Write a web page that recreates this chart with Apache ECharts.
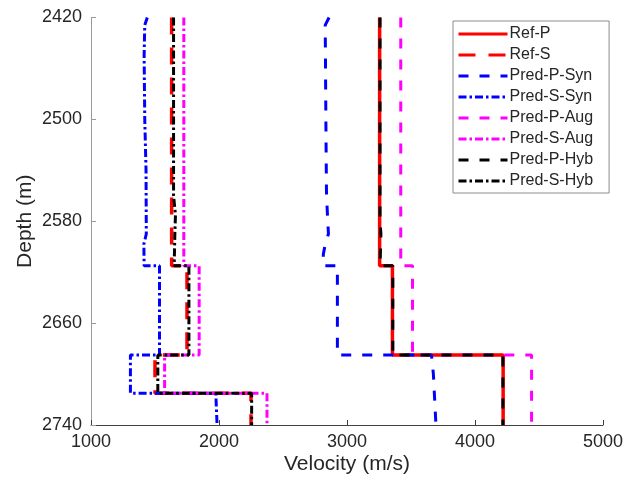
<!DOCTYPE html>
<html>
<head>
<meta charset="utf-8">
<script src="https://cdn.jsdelivr.net/npm/echarts@6/dist/echarts.min.js"></script>
<style>
  html, body { margin: 0; padding: 0; background: #fff; }
  #chart { width: 626px; height: 484px; }
</style>
</head>
<body>
<div id="chart"></div>
<script>
// [depth (m), velocity (m/s)], step logs
const refP = [[2420, 3255], [2615, 3255], [2615, 3355], [2685, 3355], [2685, 4220], [2740, 4220]]
const refS = [[2420, 1630], [2615, 1630], [2615, 1750], [2685, 1750], [2685, 1500], [2715, 1500], [2715, 2250], [2740, 2250]]
const predPSyn = [[2420, 2860], [2426, 2830], [2500, 2835], [2560, 2840], [2590, 2855], [2598, 2830], [2606, 2815], [2615, 2815],
  [2615, 2925], [2685, 2925], [2685, 3660], [2700, 3675], [2740, 3695]]
const predSSyn = [[2420, 1440], [2426, 1420], [2450, 1415], [2500, 1420], [2540, 1430], [2590, 1432], [2598, 1413], [2615, 1415],
  [2615, 1535], [2685, 1535], [2685, 1308], [2715, 1308], [2715, 1975], [2740, 1985]]
const predPAug = [[2420, 3420], [2615, 3420], [2615, 3512], [2685, 3512], [2685, 4442], [2740, 4442]]
const predSAug = [[2420, 1725], [2615, 1725], [2615, 1845], [2685, 1845], [2685, 1575], [2715, 1575], [2715, 2375], [2740, 2375]]
const predPHyb = [[2420, 3258], [2580, 3258], [2590, 3265], [2615, 3258], [2615, 3358], [2685, 3358], [2685, 4218], [2740, 4218]]
const predSHyb = [[2420, 1645], [2560, 1645], [2575, 1660], [2590, 1655], [2615, 1650], [2615, 1765], [2685, 1765],
  [2685, 1522], [2715, 1522], [2715, 2255], [2740, 2255]]

const seriesNames = ['Ref-P', 'Ref-S', 'Pred-P-Syn', 'Pred-S-Syn', 'Pred-P-Aug', 'Pred-S-Aug', 'Pred-P-Hyb', 'Pred-S-Hyb']
const seriesData = [refP, refS, predPSyn, predSSyn, predPAug, predSAug, predPHyb, predSHyb]
const depthTicks = [2420, 2740, 80]
const velocityTicks = [1000, 5000, 1000]

const dash = [10, 11]
const dashDot = [8, 3, 2.5, 3]
const styles = [
  { color: '#ff0000', width: 3.5, type: 'solid' },
  { color: '#ff0000', width: 3.5, type: [17, 13] },
  { color: '#0000ff', width: 3, type: dash },
  { color: '#0000ff', width: 3, type: dashDot },
  { color: '#ff00ff', width: 3, type: dash },
  { color: '#ff00ff', width: 3, type: dashDot },
  { color: '#000000', width: 3, type: dash },
  { color: '#000000', width: 3, type: dashDot }
]

const chart = echarts.init(document.getElementById('chart'))
const font = 'Liberation Sans, Arial, sans-serif'

chart.setOption({
  animation: false,
  backgroundColor: '#fff',
  grid: { left: 91, right: 19, top: 17.5, bottom: 59 },
  legend: {
    orient: 'vertical',
    left: 453,
    top: 21,
    padding: [5, 16, 4, 4],
    itemWidth: 49,
    itemHeight: 14,
    itemGap: 5,
    borderColor: '#8c8c8c',
    borderWidth: 1,
    backgroundColor: '#fff',
    itemStyle: { opacity: 0 },
    lineStyle: { width: 3 },
    textStyle: { fontFamily: font, fontSize: 16, lineHeight: 16, color: '#262626', padding: [0, 0, 0, -3] },
    data: seriesNames
  },
  xAxis: {
    type: 'value',
    min: velocityTicks[0],
    max: velocityTicks[1],
    interval: velocityTicks[2],
    name: 'Velocity (m/s)',
    nameLocation: 'middle',
    nameGap: 29,
    nameMoveOverlap: false,
    nameTextStyle: { fontFamily: font, fontSize: 21, color: '#262626' },
    axisLine: { lineStyle: { color: '#404040', width: 1 } },
    axisTick: { inside: true, length: 5, lineStyle: { color: '#404040' } },
    axisLabel: { fontFamily: font, fontSize: 18, color: '#262626', margin: 8, formatter: v => String(v) },
    splitLine: { show: false }
  },
  yAxis: {
    type: 'value',
    inverse: true,
    min: depthTicks[0],
    max: depthTicks[1],
    interval: depthTicks[2],
    name: 'Depth (m)',
    nameLocation: 'middle',
    nameGap: 55,
    nameMoveOverlap: false,
    nameTextStyle: { fontFamily: font, fontSize: 21, color: '#262626' },
    axisLine: { show: true, lineStyle: { color: '#9a9a9a', width: 1 } },
    axisTick: { show: true, inside: true, length: 5, lineStyle: { color: '#9a9a9a' } },
    axisLabel: { fontFamily: font, fontSize: 18, color: '#262626', margin: 9, formatter: v => String(v) },
    splitLine: { show: false }
  },
  series: seriesNames.map((name, i) => ({
    name: name,
    type: 'line',
    symbol: 'none',
    z: 2 + i,
    lineStyle: styles[i],
    itemStyle: { color: styles[i].color },
    data: seriesData[i].map(p => [p[1], p[0]])
  }))
})
</script>
</body>
</html>
